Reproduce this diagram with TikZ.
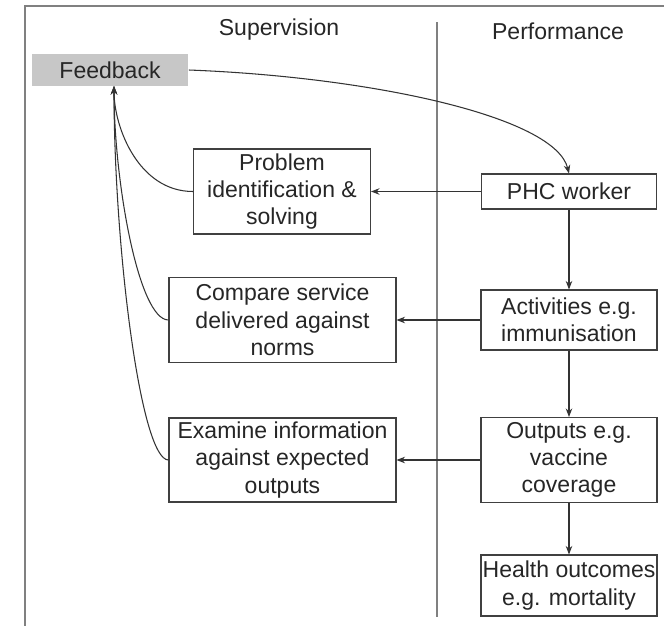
\documentclass[tikz,border=0pt]{standalone}
\usepackage{fontspec}
\setmainfont{Liberation Sans}
\usetikzlibrary{arrows.meta}
\begin{document}
\begin{tikzpicture}[x=0.02cm, y=-0.02cm,
  box/.style={draw=black!75, line width=0.6pt, align=center, inner sep=0pt, text=black!85, font=\fontsize{13.1}{15.5}\selectfont},
  fbbox/.style={fill=black!22, inner sep=0pt, text=black!85, font=\fontsize{13.1}{15.5}\selectfont},
  head/.style={text=black!85, font=\fontsize{13.1}{15.5}\selectfont},
  arr/.style={draw=black!80, line width=0.6pt, -{Stealth[length=1.7mm,width=1.3mm]}},
  rule/.style={draw=black!50, line width=0.8pt}]
\useasboundingbox (0,0) rectangle (664,626);
\draw[rule] (25,626) -- (25,6) -- (664,6);
\draw[rule] (437,22) -- (437,617);
\node[head] (sup) at (279,30){Supervision};
\node[head] (perf) at (558,31){Performance};
\node[fbbox, minimum width=3.14cm, minimum height=0.64cm] (fb) at (110,70){Feedback};
\coordinate (fbin) at (114,86);
\node[box, minimum width=3.54cm, minimum height=1.70cm] (problem) at (282,191.5){Problem\\identification \&\\solving};
\node[box, minimum width=4.54cm, minimum height=1.70cm] (compare) at (282.5,320){Compare service\\delivered against\\norms};
\node[box, minimum width=4.54cm, minimum height=1.68cm] (examine) at (282.5,460){Examine information\\against expected\\outputs};
\node[box, minimum width=3.50cm, minimum height=0.70cm] (phc) at (569,191.5){PHC worker};
\node[box, minimum width=3.52cm, minimum height=1.20cm] (act) at (569,320){Activities e.g.\\immunisation};
\node[box, minimum width=3.52cm, minimum height=1.70cm] (outp) at (569,460){Outputs e.g.\\vaccine\\coverage};
\node[box, minimum width=3.52cm, minimum height=1.22cm] (health) at (569,585.5){Health outcomes\\e.g. mortality};
\draw[arr](fb.east) .. controls +(182,7) and +(-14,-57) .. (phc.north);
\draw[arr](phc) -- (problem);
\draw[arr](act) -- (compare);
\draw[arr](outp) -- (examine);
\draw[arr](phc) -- (act);
\draw[arr](act) -- (outp);
\draw[arr](outp) -- (health);
\draw[arr](problem.west) .. controls +(-54,0) and +(0,42) .. (fbin);
\draw[arr](compare.west) .. controls +(-30,0) and +(0,95) .. (fbin);
\draw[arr](examine.west) .. controls +(-28,0) and +(0,160) .. (fbin);
\end{tikzpicture}
\end{document}
